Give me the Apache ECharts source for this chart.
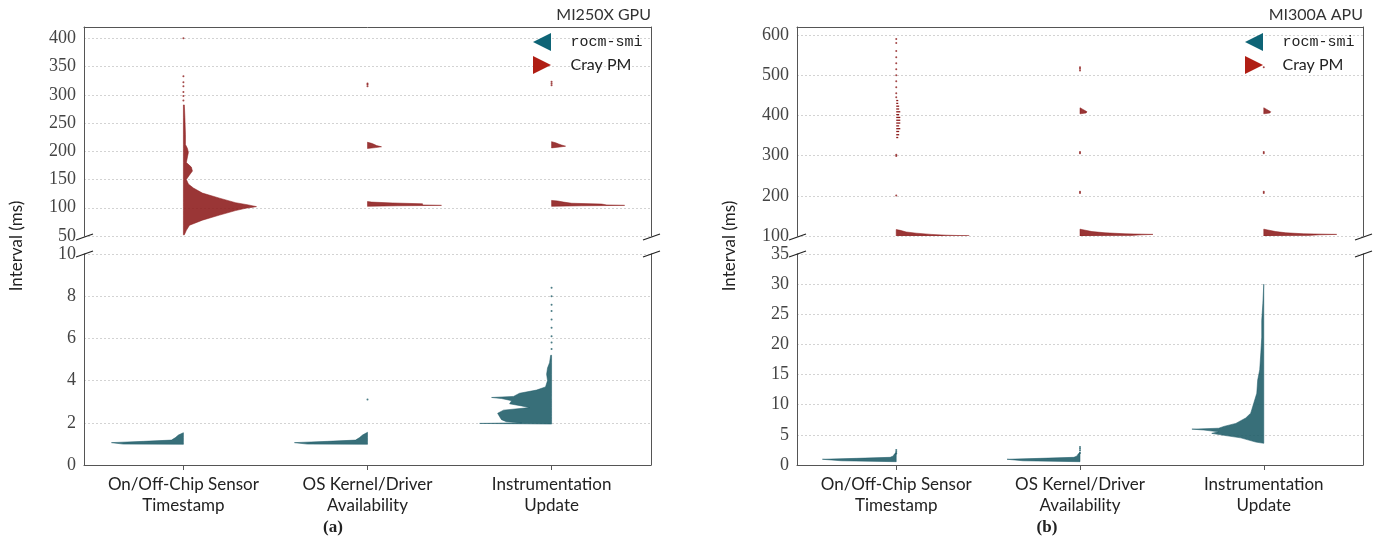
<!DOCTYPE html>
<html>
<head>
<meta charset="utf-8">
<script src="https://cdn.jsdelivr.net/npm/echarts@6/dist/echarts.min.js"></script>
<style>html,body{margin:0;padding:0;background:#fff}#c{width:1379px;height:537px}</style>
</head>
<body>
<div id="c"></div>
<script>
// ---------- data ----------
const categories = ['On/Off-Chip Sensor\nTimestamp', 'OS Kernel/Driver\nAvailability', 'Instrumentation\nUpdate'];
const panelTitles = ['MI250X GPU', 'MI300A APU'];
const seriesNames = ['rocm-smi', 'Cray PM'];

// y-axis ranges (top / bottom broken segments)
const aTopTicks = [50, 420, 50];   // min, max, step
const aBotTicks = [0, 10, 2];
const bTopTicks = [100, 620, 100];
const bBotTicks = [0, 35, 5];

// Half-violin profiles: values (ms) and half-widths (category units)
// Panel (a) MI250X - Cray PM
const a_ts_cray_v = [52, 60, 69, 78, 87, 95, 99, 102, 105, 109, 117, 126, 135, 142, 150, 158, 165, 172, 180, 190, 198, 205, 212, 230, 260, 282];
const a_ts_cray_w = [0.005, 0.016, 0.033, 0.103, 0.196, 0.283, 0.337, 0.397, 0.353, 0.283, 0.196, 0.103, 0.054, 0.027, 0.016, 0.033, 0.049, 0.043, 0.016, 0.022, 0.027, 0.022, 0.011, 0.011, 0.008, 0.005];
const a_ts_cray_dots = [290, 298, 305, 315, 322, 333, 400];
const a_os_cray_v = [102.5, 103.5, 104.2, 105, 107, 108.5, 110, 111];
const a_os_cray_w = [0, 0.163, 0.402, 0.299, 0.299, 0.136, 0.022, 0];
const a_os_cray2_v = [205, 206.5, 208, 210, 212, 214, 216];
const a_os_cray2_w = [0, 0.043, 0.076, 0.049, 0.038, 0.022, 0];
const a_os_cray_dots = [315, 318, 320];
const a_in_cray_v = [102.5, 103.5, 104.2, 105, 106.5, 108, 110, 112, 113];
const a_in_cray_w = [0, 0.163, 0.397, 0.299, 0.272, 0.109, 0.065, 0.033, 0];
const a_in_cray2_v = [206, 207.5, 209, 211, 213, 215, 217];
const a_in_cray2_w = [0, 0.043, 0.076, 0.054, 0.038, 0.022, 0];
const a_in_cray_dots = [317, 320, 323];
// Panel (a) MI250X - rocm-smi
const a_ts_rocm_v = [0.98, 0.99, 1.06, 1.12, 1.18, 1.3, 1.42, 1.53];
const a_ts_rocm_w = [0, 0.326, 0.391, 0.217, 0.065, 0.043, 0.027, 0];
const a_os_rocm_v = [0.98, 0.99, 1.06, 1.12, 1.18, 1.3, 1.42, 1.55];
const a_os_rocm_w = [0, 0.326, 0.397, 0.217, 0.065, 0.043, 0.027, 0];
const a_os_rocm_dots = [3.1];
const a_in_rocm_v = [1.94, 1.97, 2.0, 2.05, 2.15, 2.3, 2.45, 2.6, 2.72, 2.8, 2.9, 3.05, 3.15, 3.2, 3.25, 3.4, 3.55, 3.7, 4.0, 4.3, 4.6, 4.85, 5.2];
const a_in_rocm_w = [0, 0.391, 0.163, 0.245, 0.272, 0.283, 0.293, 0.261, 0.12, 0.163, 0.228, 0.217, 0.272, 0.326, 0.207, 0.174, 0.082, 0.033, 0.022, 0.027, 0.022, 0.011, 0.005];
const a_in_rocm_dots = [5.5, 5.8, 6.1, 6.5, 6.9, 7.3, 7.6, 8.0, 8.4];

// Panel (b) MI300A - Cray PM
const b_ts_cray_v = [95, 96.5, 99, 100.5, 102, 104, 107, 110, 114, 116];
const b_ts_cray_w = [0, 0.245, 0.337, 0.397, 0.272, 0.19, 0.109, 0.054, 0.022, 0];
const b_ts_cray_tick_v = [345, 352, 360, 367, 374, 381, 388, 395, 402, 409, 416, 423, 430, 437];
const b_ts_cray_tick_w = [0.011, 0.016, 0.016, 0.022, 0.016, 0.022, 0.022, 0.022, 0.016, 0.022, 0.016, 0.016, 0.011, 0.011];
const b_ts_cray_dots = [201, 299, 302, 445, 455, 470, 485, 500, 515, 530, 545, 560, 580, 590];
const b_os_cray_v = [100, 101, 103, 104, 105.5, 108, 111, 115, 117];
const b_os_cray_w = [0, 0.272, 0.337, 0.397, 0.245, 0.136, 0.065, 0.022, 0];
const b_os_cray2_v = [404, 406, 409, 412, 415, 419];
const b_os_cray2_w = [0, 0.033, 0.038, 0.027, 0.016, 0];
const b_os_cray_dots = [207, 210, 306, 309, 512, 516, 520];
const b_in_cray_v = [100, 101, 103, 104, 105.5, 108, 111, 115, 117];
const b_in_cray_w = [0, 0.234, 0.304, 0.397, 0.217, 0.12, 0.065, 0.022, 0];
const b_in_cray2_v = [404, 406, 409, 412, 415, 419];
const b_in_cray2_w = [0, 0.033, 0.038, 0.027, 0.016, 0];
const b_in_cray_dots = [207, 210, 306, 309, 520];
// Panel (b) MI300A - rocm-smi
const b_ts_rocm_v = [0.55, 0.7, 0.95, 1.1, 1.27, 1.5, 1.8, 2.1];
const b_ts_rocm_w = [0, 0.299, 0.402, 0.217, 0.033, 0.016, 0.011, 0];
const b_ts_rocm_dots = [1.9, 2.2, 2.5];
const b_os_rocm_v = [0.55, 0.7, 0.95, 1.1, 1.27, 1.5, 1.8, 2.1];
const b_os_rocm_w = [0, 0.31, 0.397, 0.217, 0.033, 0.016, 0.011, 0];
const b_os_rocm_dots = [2.0, 2.4, 2.7, 3.0];
const b_in_rocm_v = [3.6, 3.8, 4.5, 5.0, 5.25, 5.5, 5.8, 5.95, 6.1, 6.4, 6.9, 7.8, 8.6, 10.3, 11.9, 14.1, 15.8, 18.6, 21.2, 24, 26.8, 30];
const b_in_rocm_w = [0, 0.043, 0.125, 0.234, 0.283, 0.245, 0.326, 0.391, 0.245, 0.217, 0.152, 0.098, 0.071, 0.054, 0.038, 0.033, 0.022, 0.016, 0.011, 0.011, 0.005, 0];

// ---------- style ----------
const RED = '#8c1a1a', TEAL = '#1d5b67';
const LEG_RED = '#b01e14', LEG_TEAL = '#0e6476';
const SANS = 'Lato, "Open Sans", sans-serif';
const SERIF = '"Liberation Serif", serif';
const AXC = '#555';

const chart = echarts.init(document.getElementById('c'), null, {renderer: 'canvas'});

const gridsPx = [
  {left: 84, top: 27, width: 567, height: 209},
  {left: 84, top: 254, width: 567, height: 211},
  {left: 797, top: 27, width: 566, height: 209},
  {left: 797, top: 254, width: 566, height: 211}
];
const ranges = [aTopTicks, aBotTicks, bTopTicks, bBotTicks];

const xAxes = [], yAxes = [];
gridsPx.forEach((g, i) => {
  const isTop = i % 2 === 0;
  xAxes.push({
    type: 'value', gridIndex: i, min: -0.54, max: 2.54,
    position: isTop ? 'top' : 'bottom',
    axisLine: {show: true, onZero: false, lineStyle: {color: AXC, width: 1}},
    splitLine: {show: false},
    axisTick: isTop ? {show: false} : {show: true, customValues: [0, 1, 2], length: 5, lineStyle: {color: AXC}},
    axisLabel: isTop ? {show: false} : {
      show: true, customValues: [0, 1, 2], margin: 9,
      formatter: v => categories[Math.round(v)] || '',
      fontFamily: SANS, fontSize: 17, lineHeight: 21, color: '#222'
    }
  });
  const r = ranges[i];
  yAxes.push({
    type: 'value', gridIndex: i, min: r[0], max: r[1], interval: r[2],
    axisLine: {show: true, onZero: false, lineStyle: {color: AXC, width: 1}},
    axisTick: {show: false},
    axisLabel: {fontFamily: SERIF, fontSize: 18, color: '#444', margin: 8, showMaxLabel: !isTop ? true : false},
    splitLine: {show: true, lineStyle: {type: [2, 2], color: '#c8c8c8', width: 0.8}}
  });
  yAxes.push({
    type: 'value', gridIndex: i, min: r[0], max: r[1], position: 'right',
    axisLine: {show: true, onZero: false, lineStyle: {color: AXC, width: 1}},
    axisTick: {show: false}, axisLabel: {show: false}, splitLine: {show: false}
  });
});

const series = [];
function profile(gi, name, color, cat, dir, vs, ws) {
  series.push({
    type: 'custom', name, xAxisIndex: gi, yAxisIndex: gi * 2, silent: true, clip: true,
    itemStyle: {color},
    data: [[cat, vs[0]]],
    renderItem: (params, api) => {
      const pts = [];
      for (let i = 0; i < vs.length; i++) pts.push(api.coord([cat + dir * ws[i], vs[i]]));
      for (let i = vs.length - 1; i >= 0; i--) pts.push(api.coord([cat, vs[i]]));
      return {type: 'polygon', shape: {points: pts}, style: {fill: color, opacity: 0.88, stroke: color, lineWidth: 0.6}};
    }
  });
}
function ticks(gi, name, color, cat, dir, vs, ws) {
  series.push({
    type: 'custom', name, xAxisIndex: gi, yAxisIndex: gi * 2, silent: true,
    itemStyle: {color},
    data: vs.map((v, i) => [cat, v, ws[i]]),
    renderItem: (params, api) => {
      const p0 = api.coord([api.value(0), api.value(1)]);
      const p1 = api.coord([api.value(0) + dir * api.value(2), api.value(1)]);
      return {type: 'line', shape: {x1: p0[0], y1: p0[1], x2: p1[0], y2: p1[1]}, style: {stroke: color, lineWidth: 1.3}};
    }
  });
}
function dots(gi, name, color, cat, vs) {
  series.push({
    type: 'scatter', name, xAxisIndex: gi, yAxisIndex: gi * 2, silent: true,
    symbolSize: 2, itemStyle: {color, opacity: 0.8},
    data: vs.map(v => [cat, v])
  });
}
const CR = seriesNames[1], RS = seriesNames[0];
// panel a
profile(0, CR, RED, 0, 1, a_ts_cray_v, a_ts_cray_w); dots(0, CR, RED, 0, a_ts_cray_dots);
profile(0, CR, RED, 1, 1, a_os_cray_v, a_os_cray_w); profile(0, CR, RED, 1, 1, a_os_cray2_v, a_os_cray2_w); dots(0, CR, RED, 1, a_os_cray_dots);
profile(0, CR, RED, 2, 1, a_in_cray_v, a_in_cray_w); profile(0, CR, RED, 2, 1, a_in_cray2_v, a_in_cray2_w); dots(0, CR, RED, 2, a_in_cray_dots);
profile(1, RS, TEAL, 0, -1, a_ts_rocm_v, a_ts_rocm_w);
profile(1, RS, TEAL, 1, -1, a_os_rocm_v, a_os_rocm_w); dots(1, RS, TEAL, 1, a_os_rocm_dots);
profile(1, RS, TEAL, 2, -1, a_in_rocm_v, a_in_rocm_w); dots(1, RS, TEAL, 2, a_in_rocm_dots);
// panel b
profile(2, CR, RED, 0, 1, b_ts_cray_v, b_ts_cray_w); ticks(2, CR, RED, 0, 1, b_ts_cray_tick_v, b_ts_cray_tick_w); dots(2, CR, RED, 0, b_ts_cray_dots);
profile(2, CR, RED, 1, 1, b_os_cray_v, b_os_cray_w); profile(2, CR, RED, 1, 1, b_os_cray2_v, b_os_cray2_w); dots(2, CR, RED, 1, b_os_cray_dots);
profile(2, CR, RED, 2, 1, b_in_cray_v, b_in_cray_w); profile(2, CR, RED, 2, 1, b_in_cray2_v, b_in_cray2_w); dots(2, CR, RED, 2, b_in_cray_dots);
profile(3, RS, TEAL, 0, -1, b_ts_rocm_v, b_ts_rocm_w); dots(3, RS, TEAL, 0, b_ts_rocm_dots);
profile(3, RS, TEAL, 1, -1, b_os_rocm_v, b_os_rocm_w); dots(3, RS, TEAL, 1, b_os_rocm_dots);
profile(3, RS, TEAL, 2, -1, b_in_rocm_v, b_in_rocm_w);

function legendFor(left) {
  return {
    left, top: 33, orient: 'vertical', itemWidth: 19, itemHeight: 18, itemGap: 5, padding: 0,
    selectedMode: false,
    data: [
      {name: RS, icon: 'path://M18,0 L18,18 L0,9 Z', itemStyle: {color: LEG_TEAL},
       textStyle: {fontFamily: '"Liberation Mono", monospace', fontSize: 15, color: '#222', padding: [0, 0, 0, 14]}},
      {name: CR, icon: 'path://M0,0 L18,9 L0,18 Z', itemStyle: {color: LEG_RED},
       textStyle: {fontFamily: SANS, fontSize: 16, color: '#222', padding: [0, 0, 0, 14]}}
    ]
  };
}

function brk(x, y) {
  return {type: 'line', shape: {x1: x - 8, y1: y + 3, x2: x + 9, y2: y - 3}, style: {stroke: '#222', lineWidth: 1.2}, z: 100};
}

const option = {
  animation: false,
  backgroundColor: '#fff',
  title: [
    {text: panelTitles[0], right: 1379 - 651, top: 7, padding: 0, textStyle: {fontFamily: SANS, fontSize: 16, fontWeight: 'normal', color: '#333'}},
    {text: panelTitles[1], right: 1379 - 1363, top: 7, padding: 0, textStyle: {fontFamily: SANS, fontSize: 16, fontWeight: 'normal', color: '#333'}}
  ],
  legend: [legendFor(533), legendFor(1245)],
  grid: gridsPx.map(g => Object.assign({containLabel: false}, g)),
  xAxis: xAxes,
  yAxis: yAxes,
  series,
  graphic: [
    {type: 'text', left: 8, top: 190, rotation: Math.PI / 2, style: {text: 'Interval (ms)', font: '17px ' + SANS, fill: '#222'}},
    {type: 'text', x: 17, y: 246, rotation: Math.PI / 2, style: {text: '', fill: '#222'}},
    brk(84, 237), brk(84, 254), brk(651, 237), brk(651, 254),
    brk(797, 237), brk(797, 254), brk(1363, 237), brk(1363, 254),
    {type: 'text', x: 333, y: 528, style: {text: '(a)', font: 'bold 17px ' + SERIF, fill: '#222', align: 'center', verticalAlign: 'middle'}},
    {type: 'text', x: 1047, y: 528, style: {text: '(b)', font: 'bold 17px ' + SERIF, fill: '#222', align: 'center', verticalAlign: 'middle'}},
    {type: 'text', x: 730, y: 246, rotation: Math.PI / 2, style: {text: 'Interval (ms)', font: '17px ' + SANS, fill: '#222', align: 'center', verticalAlign: 'middle'}},
    {type: 'text', x: 17, y: 246, rotation: Math.PI / 2, style: {text: 'Interval (ms)', font: '17px ' + SANS, fill: '#222', align: 'center', verticalAlign: 'middle'}}
  ]
};
// remove placeholder graphics
option.graphic = option.graphic.filter((g, i) => i > 1);
chart.setOption(option);
</script>
</body>
</html>
